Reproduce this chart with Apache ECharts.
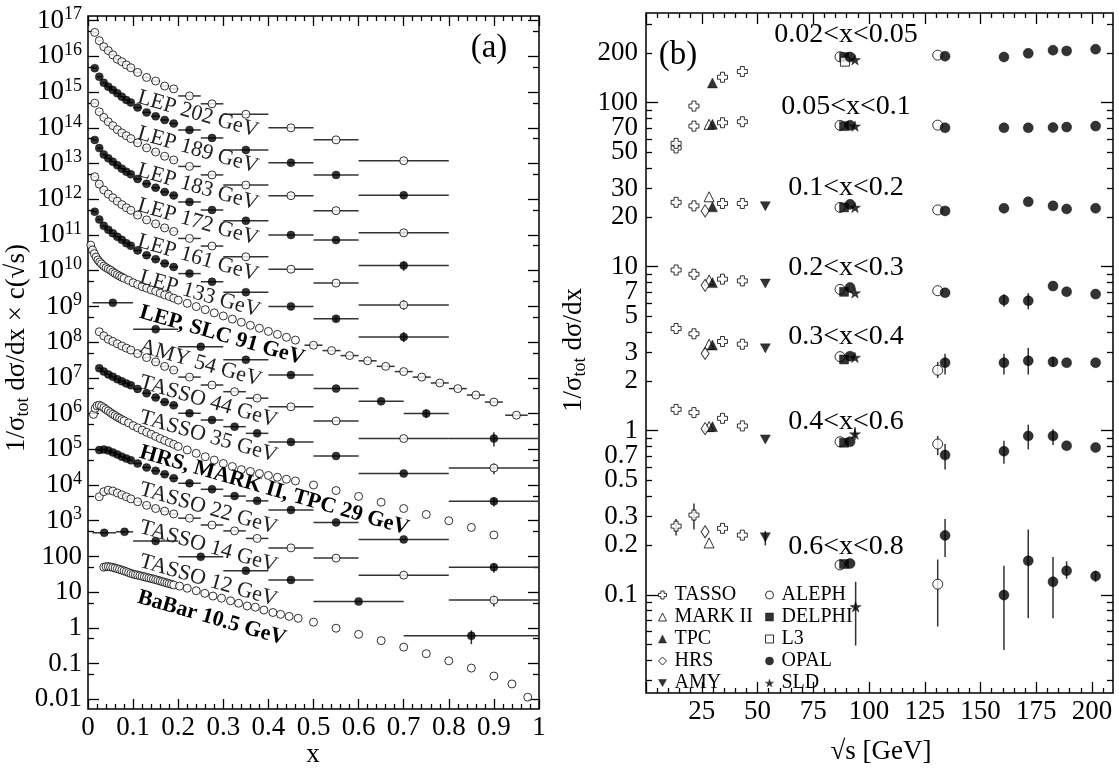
<!DOCTYPE html>
<html>
<head>
<meta charset="utf-8">
<script src="https://cdn.jsdelivr.net/npm/echarts@6/dist/echarts.min.js"></script>
<style>
html,body{margin:0;padding:0;background:#fff}
#main{width:1119px;height:768px}
</style>
</head>
<body>
<div id="main"></div>
<script>
var FONT = "'Liberation Serif','Times New Roman',serif";
var LG = Math.log10;

// ---- panel (a): x bins and 1/sigma dsigma/dx (before scaling by c) ----
var lep2X = [0.015,0.025,0.035,0.045,0.055,0.065,0.075,0.085,0.095,0.11,0.13,0.15,0.17,0.19,0.225,0.275,0.35,0.45,0.55,0.7];
var lep2W = [0.005,0.005,0.005,0.005,0.005,0.005,0.005,0.005,0.005,0.01,0.01,0.01,0.01,0.01,0.025,0.025,0.05,0.05,0.05,0.1];
var lep202 = [468,275,186,145,110,83,71,57.5,48,35.5,25.7,20.4,14.8,12.3,7.8,4.7,2.4,1.0,0.46,0.12];
var lep189 = [468,269,182,141,115,93,74,60,51,37,27,21,16.6,13.2,8.7,5.2,2.4,1.05,0.48,0.13];
var lep183 = [490,282,195,148,115,89,72,60,50,38,27.5,21,16,12.6,8.3,4.8,2.5,1.26,0.48,0.115];
var lep172 = [457,270,180,140,112,90,72,59,50,37,27,21,16,12.8,8.4,5.0,2.5,1.0,0.72,0.14];
var lep161 = [427,265,182,140,110,88,71,58,49,36,26.5,20.5,15.8,12.5,8.0,4.9,2.45,1.1,0.45,0.11];
var lep133 = [447,270,180,140,112,89,73,59,50,37,27,21,16,12.7,8.3,4.9,2.5,1.0,0.45,0.14];

var lep91X = [0.006,0.01,0.014,0.018,0.022,0.026,0.03,0.035,0.04,0.045,0.05,0.055,0.06,0.065,0.07,0.075,0.08,
  0.09,0.1,0.11,0.12,0.13,0.14,0.15,0.16,0.17,0.18,0.19,0.2,0.22,0.24,0.26,0.28,0.3,0.32,0.34,0.36,0.38,0.4,0.42,0.44,0.46,
  0.5,0.54,0.58,0.62,0.66,0.7,0.74,0.78,0.82,0.86,0.9,0.95];
var lep91W = [0,0,0,0,0,0,0,0,0,0,0,0,0,0,0,0,0,0,0,0,0,0,0,0,0,0,0,0,0,0,0,0,0,0,0,0,0,0,0,0,0,0,
  0.02,0.02,0.02,0.02,0.02,0.02,0.02,0.02,0.02,0.02,0.02,0.025];
var lep91 = [520,380,300,240,200,175,155,135,122,112,104,92,84,77,71,66,61,
  54,46,41,36,32.5,29,26.5,23.5,21,19,17,15,12.2,9.9,8.1,6.6,5.4,4.4,3.6,2.95,2.45,2.0,1.65,1.37,1.14,
  0.82,0.58,0.42,0.30,0.21,0.15,0.105,0.072,0.05,0.033,0.021,0.009];

var amyX = [0.055,0.15,0.25,0.35,0.45,0.55,0.65,0.75,0.9];
var amyW = [0.045,0.05,0.05,0.05,0.05,0.05,0.05,0.05,0.1];
var amy = [126,23,7.4,3.2,1.2,0.5,0.22,0.1,0.02];

var tasX = [0.025,0.035,0.045,0.055,0.065,0.075,0.085,0.095,0.11,0.13,0.15,0.17,0.19,0.225,0.275,0.325,0.375,0.45,0.55,0.7,0.9];
var tasW = [0.005,0.005,0.005,0.005,0.005,0.005,0.005,0.005,0.01,0.01,0.01,0.01,0.01,0.025,0.025,0.025,0.025,0.05,0.05,0.1,0.1];
var tasso44 = [195,150,120,105,90,78,68,60,48,37,28,21,16.5,10.5,6.3,4.1,2.7,1.55,0.62,0.2,0.03];
var tasso35 = [186,150,125,108,92,80,70,62,49,37,28,21,17,10.2,6.6,4.3,2.8,1.6,0.65,0.21,0.035];
var tasso22 = [95,98,92,82,72,62,55,49,40,31,25,20,15.5,11.2,7.6,4.9,3.6,2.0,0.9,0.3,0.05];
var tasso14 = [47,65,72,68,60,53,47,41,34,27,22,18.5,15.5,11.8,7.6,5.2,3.2,1.74,0.9,0.3,0.06];

var t12X = [0.036,0.081,0.15,0.25,0.35,0.45,0.6,0.85];
var t12W = [0.026,0.019,0.05,0.05,0.05,0.05,0.1,0.15];
var tasso12 = [46,49,27,9.8,4.0,2.2,0.55,0.06];

var hrsX = [0.012,0.016,0.02,0.025,0.03,0.035,0.04,0.045,0.05,0.055,0.06,0.065,0.07,0.075,0.08,0.09,0.1,0.11,0.12,0.13,
  0.14,0.15,0.16,0.17,0.18,0.19,0.2,0.22,0.24,0.26,0.28,0.3,0.32,0.34,0.36,0.38,0.4,0.42,0.44,0.46,
  0.5,0.55,0.6,0.65,0.7,0.75,0.8,0.85,0.9];
var hrs29 = [95,140,165,172,160,145,130,118,106,96,88,80,74,68,63,55,46,40,34.5,30,
  26.5,23,20,17.7,15.5,13.8,12,9.6,7.7,6.2,5.0,4.0,3.3,2.7,2.4,2.1,1.85,1.65,1.45,1.3,
  1.0,0.7,0.48,0.33,0.22,0.15,0.1,0.065,0.04];

var babarX = [0.035,0.04,0.045,0.05,0.055,0.06,0.065,0.07,0.075,0.08,0.085,0.09,0.095,0.1,0.105,0.11,0.115,0.12,0.125,0.13,
  0.135,0.14,0.145,0.15,0.155,0.16,0.165,0.17,0.175,0.18,0.185,0.19,0.203,0.22,0.24,0.259,0.277,0.296,0.316,0.334,
  0.353,0.371,0.39,0.41,0.427,0.446,0.466,0.5,0.55,0.6,0.65,0.7,0.75,0.8,0.85,0.9,0.94,0.975];
var babar = [50,52,52,51,49.5,47.5,45.5,43.5,41.5,39.5,37.5,35.5,33.5,32,31,30,29,28,27,26,
  25,24.2,23.3,22.5,21.5,20.6,19.7,18.9,18.1,17.3,16.6,15.9,14.8,12.9,11.0,9.3,7.8,6.8,5.75,4.9,
  4.1,3.8,3.16,2.7,2.4,2.1,1.86,1.45,0.98,0.66,0.44,0.29,0.19,0.12,0.075,0.045,0.027,0.0115];

// scale factors c(sqrt s) and selected vertical errors [index, low, high]
var samplesA = [
  {name:'LEP 202 GeV', x:lep2X, w:lep2W, v:lep202, c:1e14, open:true, err:[]},
  {name:'LEP 189 GeV', x:lep2X, w:lep2W, v:lep189, c:1e13, open:false, err:[]},
  {name:'LEP 183 GeV', x:lep2X, w:lep2W, v:lep183, c:1e12, open:true, err:[[19,0.1,0.13]]},
  {name:'LEP 172 GeV', x:lep2X, w:lep2W, v:lep172, c:1e11, open:false, err:[[19,0.1,0.18]]},
  {name:'LEP 161 GeV', x:lep2X, w:lep2W, v:lep161, c:1e10, open:true, err:[[19,0.08,0.15]]},
  {name:'LEP 133 GeV', x:lep2X, w:lep2W, v:lep133, c:1e9, open:false, err:[[18,0.38,0.52],[19,0.1,0.19]]},
  {name:'LEP, SLC 91 GeV', x:lep91X, w:lep91W, v:lep91, c:1e8, open:true, err:[]},
  {name:'AMY 54 GeV', x:amyX, w:amyW, v:amy, c:1e7, open:false, err:[[7,0.075,0.13],[8,0.012,0.03]]},
  {name:'TASSO 44 GeV', x:tasX, w:tasW, v:tasso44, c:1e6, open:true, err:[[20,0.02,0.04]]},
  {name:'TASSO 35 GeV', x:tasX, w:tasW, v:tasso35, c:1e5, open:false, err:[[20,0.025,0.045]]},
  {name:'HRS, MARK II, TPC 29 GeV', x:hrsX, w:null, v:hrs29, c:1e4, open:true, err:[]},
  {name:'TASSO 22 GeV', x:tasX, w:tasW, v:tasso22, c:1e3, open:false, err:[[20,0.035,0.065]]},
  {name:'TASSO 14 GeV', x:tasX, w:tasW, v:tasso14, c:1e2, open:true, err:[[20,0.04,0.08]]},
  {name:'TASSO 12 GeV', x:t12X, w:t12W, v:tasso12, c:10, open:false, err:[[7,0.035,0.085]]},
  {name:'BaBar 10.5 GeV', x:babarX, w:null, v:babar, c:1, open:true, err:[]}
];

// text labels along the curves: [text, x, y, bold]
var curveLabels = [
  ['LEP 202 GeV',138,97,false],['LEP 189 GeV',138,133,false],['LEP 183 GeV',138,170,false],
  ['LEP 172 GeV',138,205,false],['LEP 161 GeV',138,241,false],['LEP 133 GeV',140,277,false],
  ['LEP, SLC 91 GeV',140,312,true],['AMY 54 GeV',140,346,false],['TASSO 44 GeV',140,382,false],
  ['TASSO 35 GeV',140,417,false],['HRS, MARK II, TPC 29 GeV',140,452,true],['TASSO 22 GeV',140,489,false],
  ['TASSO 14 GeV',140,527,false],['TASSO 12 GeV',140,561,false],['BaBar 10.5 GeV',138,597,true]
];

// ---- panel (b): [sqrt s, value, err low, err high] ----
var tassoPts = [[13.5,53],[21.5,95.4],[34.3,143],[43.2,155],
  [13.5,56.5],[21.5,72],[34.3,75.5],[43.2,76.6],
  [13.5,24.7],[21.5,23.5],[34.3,24.3],[43.2,24.3],
  [13.5,9.55],[21.5,9.0],[34.3,8.4],[43.2,8.2],
  [13.5,4.2],[21.5,3.9],[34.3,3.5],[43.2,3.37],
  [13.5,1.35],[21.5,1.29],[34.3,1.19],[43.2,1.07],
  [13.5,0.262,0.23,0.29],[21.5,0.306,0.25,0.36],[34.3,0.254],[43.2,0.231]];
var markIIPts = [[28.3,73.8],[28.3,26.7],[28.3,8.3],[28.3,3.37],[28.3,1.06],[28.3,0.207]];
var tpcPts = [[29.8,132],[29.8,73.8],[29.8,23.2],[29.8,8.0],[29.8,3.33],[29.8,1.06]];
var hrsPts = [[26.5,21.9],[26.5,7.7],[26.5,2.96],[26.5,1.03],[26.5,0.242]];
var amyPts = [[53.5,23.4],[53.5,7.9],[53.5,3.18],[53.5,0.885],[53.5,0.224,0.2,0.245]];
var alephPts = [[87,190.6],[87,72.8],[87,23],[87,7.28],[87,2.83],[87,0.857],[87,0.152],
  [130.8,195],[130.8,73],[130.8,22.2],[130.8,7.14],[130.8,2.34,2.1,2.63],[130.8,0.83,0.71,0.93],[130.8,0.116,0.064,0.164]];
var delphiPts = [[88.8,190],[88.8,72],[88.8,23],[88.8,7.03],[88.8,2.72],[88.8,0.845],[88.8,0.154]];
var l3Pts = [[89.2,178]];
var opalPts = [[91.5,190],[91.5,72.8],[91.5,24],[91.5,7.48],[91.5,2.85],[91.5,0.857],[91.5,0.155],
  [134.1,192],[134.1,70.3],[134.1,21.9],[134.1,6.94],[134.1,2.6,2.2,2.95],[134.1,0.711,0.58,0.83],[134.1,0.23,0.17,0.29],
  [160.5,190],[160.5,70.3],[160.5,22.7],[160.5,6.26,5.7,6.8],[160.5,2.6,2.2,2.95],[160.5,0.75,0.63,0.87],[160.5,0.0995,0.046,0.15],
  [171.4,200],[171.4,70.3],[171.4,24.9],[171.4,6.2,5.5,6.9],[171.4,2.67,2.2,3.2],[171.4,0.93,0.77,1.09],[171.4,0.161,0.072,0.25],
  [182.5,209],[182.5,70.6],[182.5,23.5],[182.5,7.62],[182.5,2.63,2.45,2.8],[182.5,0.93,0.82,1.02],[182.5,0.12,0.072,0.17],
  [188.6,207],[188.6,71],[188.6,22.5],[188.6,7.04],[188.6,2.6],[188.6,0.81],[188.6,0.14,0.125,0.16],
  [201.6,212],[201.6,72],[201.6,22.7],[201.6,6.81],[201.6,2.6],[201.6,0.79],[201.6,0.13,0.12,0.14]];
var sldPts = [[93.7,183],[93.7,72],[93.7,23],[93.7,6.93],[93.7,2.8],[93.7,0.955,0.88,1.05],[94,0.0845,0.049,0.12]];

var binLabels = [['0.02<x<0.05',35],['0.05<x<0.1',107],['0.1<x<0.2',188],['0.2<x<0.3',268],
  ['0.3<x<0.4',337],['0.4<x<0.6',422],['0.6<x<0.8',547]];
var bTickLabels = [0.1,0.2,0.3,0.5,0.7,1,2,3,5,7,10,20,30,50,70,100,200];

var crossPath = 'path://M3,0 H7 V3 H10 V7 H7 V10 H3 V7 H0 V3 H3 Z';
var downTri = 'path://M0,0 L10,0 L5,9 Z';
var starPath = 'path://M50,0 L61,35 L98,35 L68,57 L79,91 L50,70 L21,91 L32,57 L2,35 L39,35 Z';

var expsB = [
  {name:'TASSO', pts:tassoPts, symbol:crossPath, size:10, open:true},
  {name:'MARK II', pts:markIIPts, symbol:'triangle', size:10, open:true},
  {name:'TPC', pts:tpcPts, symbol:'triangle', size:10, open:false},
  {name:'HRS', pts:hrsPts, symbol:'diamond', size:[8,12], open:true},
  {name:'AMY', pts:amyPts, symbol:downTri, size:10, open:false},
  {name:'ALEPH', pts:alephPts, symbol:'circle', size:10, open:true},
  {name:'DELPHI', pts:delphiPts, symbol:'rect', size:9, open:false},
  {name:'L3', pts:l3Pts, symbol:'rect', size:9, open:true},
  {name:'OPAL', pts:opalPts, symbol:'circle', size:10, open:false},
  {name:'SLD', pts:sldPts, symbol:starPath, size:11, open:false}
];

// ---- axes ranges (log10 space for y) ----
var aYmin = -2.27, aYmax = 17.13;
var bYmin = -1.599, bYmax = 2.547;
var bXmax = 209.4;

function range(a, b, step) {
  var out = [];
  for (var v = a; v <= b + 1e-9; v += step) out.push(Math.round(v * 1e6) / 1e6);
  return out;
}
function notMultiple(step) {
  return function (v) { return Math.abs(v / step - Math.round(v / step)) > 1e-6; };
}
var aXMajor = range(0, 1, 0.1);
var aXMinor = range(0.02, 0.98, 0.02).filter(notMultiple(0.1));
var aYMajor = range(-2, 17, 1);
var aYMinor = range(-3, 16, 1).map(function (n) { return n + LG(5); }).filter(function (v) { return v > aYmin; });
var bXMajor = range(0, 200, 25);
var bXMinor = range(5, 205, 5).filter(notMultiple(25));
var bYMajor = [-1, 0, 1, 2];
var bYMinor = [];
[-2, -1, 0, 1, 2].forEach(function (n) {
  for (var k = 2; k <= 9; k++) {
    var v = n + LG(k);
    if (v > bYmin && v < bYmax) bYMinor.push(v);
  }
});

function tickAxis(grid, pos, min, max, ticks, len) {
  return {
    type: 'value', gridIndex: grid, position: pos, min: min, max: max,
    splitLine: {show: false},
    axisLine: {show: false, onZero: false},
    axisTick: {show: true, inside: true, length: len, customValues: ticks, lineStyle: {color: '#000', width: 1.3}},
    axisLabel: {show: false}
  };
}

var xAxes = [
  tickAxis(0, 'bottom', 0, 1, aXMajor, 10),
  tickAxis(0, 'bottom', 0, 1, aXMinor, 5),
  tickAxis(0, 'top', 0, 1, aXMajor, 10),
  tickAxis(0, 'top', 0, 1, aXMinor, 5),
  tickAxis(1, 'bottom', 0, bXmax, bXMajor, 11),
  tickAxis(1, 'bottom', 0, bXmax, bXMinor, 5),
  tickAxis(1, 'top', 0, bXmax, bXMajor, 11),
  tickAxis(1, 'top', 0, bXmax, bXMinor, 5)
];
xAxes[0].axisLabel = {
  show: true, customValues: aXMajor, margin: 5, color: '#000', fontFamily: FONT, fontSize: 27,
  formatter: function (v) { return String(Math.round(v * 10) / 10); }
};
xAxes[4].axisLabel = {
  show: true, customValues: range(25, 200, 25), margin: 5, color: '#000', fontFamily: FONT, fontSize: 27,
  formatter: function (v) { return String(Math.round(v)); }
};

var yAxes = [
  tickAxis(0, 'left', aYmin, aYmax, aYMajor, 11),
  tickAxis(0, 'left', aYmin, aYmax, aYMinor, 6),
  tickAxis(0, 'right', aYmin, aYmax, aYMajor, 11),
  tickAxis(0, 'right', aYmin, aYmax, aYMinor, 6),
  tickAxis(1, 'left', bYmin, bYmax, bYMajor, 12),
  tickAxis(1, 'left', bYmin, bYmax, bYMinor, 6),
  tickAxis(1, 'right', bYmin, bYmax, bYMajor, 12),
  tickAxis(1, 'right', bYmin, bYmax, bYMinor, 6)
];
yAxes[0].axisLabel = {
  show: true, customValues: aYMajor, margin: 6,
  formatter: function (v) {
    var n = Math.round(v);
    if (n >= 3) return '{b|10}{s|' + n + '}';
    return '{b|' + ['0.01', '0.1', '1', '10', '100'][n + 2] + '}';
  },
  rich: {
    b: {fontFamily: FONT, fontSize: 27, lineHeight: 30, color: '#000'},
    s: {fontFamily: FONT, fontSize: 18, lineHeight: 14, verticalAlign: 'top', color: '#000'}
  }
};
yAxes[4].axisLabel = {
  show: true, customValues: bTickLabels.map(LG), margin: 8, color: '#000', fontFamily: FONT, fontSize: 27,
  formatter: function (v) { return String(Number(Math.pow(10, v).toPrecision(1))); }
};

// ---- series ----
function renderBars(params, api) {
  var y = api.value(1);
  var p = api.coord([api.value(0), y]);
  var a = api.coord([api.value(2), y]);
  var b = api.coord([api.value(3), y]);
  var lo = api.coord([api.value(0), api.value(4)]);
  var hi = api.coord([api.value(0), api.value(5)]);
  var st = {stroke: '#333', lineWidth: 1.5};
  var ch = [];
  if (b[0] - a[0] > 1) ch.push({type: 'line', shape: {x1: a[0], y1: p[1], x2: b[0], y2: p[1]}, style: st});
  if (lo[1] - hi[1] > 1) ch.push({type: 'line', shape: {x1: p[0], y1: lo[1], x2: p[0], y2: hi[1]}, style: st});
  return {type: 'group', children: ch};
}

function markStyle(open) {
  return open ? {color: '#fff', borderColor: '#000', borderWidth: 1} : {color: '#000', borderColor: '#000', borderWidth: 0.5};
}

var series = [];
samplesA.forEach(function (s) {
  var lc = LG(s.c);
  var pts = [], bars = [];
  s.x.forEach(function (x, i) {
    var ly = LG(s.v[i]) + lc;
    var w = s.w ? s.w[i] : 0;
    var lo = ly, hi = ly;
    s.err.forEach(function (e) { if (e[0] === i) { lo = LG(e[1]) + lc; hi = LG(e[2]) + lc; } });
    pts.push([x, ly]);
    bars.push([x, ly, x - w, x + w, lo, hi]);
  });
  series.push({
    name: s.name + ' bars', type: 'custom', xAxisIndex: 0, yAxisIndex: 0, clip: true, z: 1,
    renderItem: renderBars, data: bars, silent: true
  });
  series.push({
    name: s.name, type: 'scatter', xAxisIndex: 0, yAxisIndex: 0, z: 2, data: pts,
    symbol: 'circle', symbolSize: 8, itemStyle: markStyle(s.open)
  });
});

expsB.forEach(function (e) {
  var pts = [], bars = [];
  e.pts.forEach(function (p) {
    var ly = LG(p[1]);
    var lo = p.length > 2 ? LG(p[2]) : ly;
    var hi = p.length > 2 ? LG(p[3]) : ly;
    pts.push([p[0], ly]);
    bars.push([p[0], ly, p[0], p[0], lo, hi]);
  });
  series.push({
    name: e.name + ' err', type: 'custom', xAxisIndex: 4, yAxisIndex: 4, clip: true, z: 1,
    renderItem: renderBars, data: bars, silent: true
  });
  series.push({
    name: e.name, type: 'scatter', xAxisIndex: 4, yAxisIndex: 4, z: 2, data: pts,
    symbol: e.symbol, symbolSize: e.size, symbolKeepAspect: true, itemStyle: markStyle(e.open)
  });
});

function legendItems(list) {
  return list.map(function (e) {
    return {name: e.name, icon: e.symbol, itemStyle: markStyle(e.open)};
  });
}

// ---- texts ----
var graphics = [];
curveLabels.forEach(function (l) {
  graphics.push({
    type: 'text', x: l[1], y: l[2], rotation: -16 * Math.PI / 180, z: 10,
    style: {text: l[0], fontFamily: FONT, fontSize: 22, fontWeight: l[3] ? 'bold' : 'normal',
      fill: l[3] ? '#000' : '#222', align: 'left', verticalAlign: 'middle', textAlign: 'left', textVerticalAlign: 'middle'}
  });
});
binLabels.forEach(function (l) {
  graphics.push({
    type: 'text', x: 846, y: l[1], z: 10,
    style: {text: l[0], fontFamily: FONT, fontSize: 28, fill: '#000',
      align: 'center', verticalAlign: 'middle', textAlign: 'center', textVerticalAlign: 'middle'}
  });
});
function plainText(txt, x, y, size, rot) {
  return {
    type: 'text', x: x, y: y, rotation: rot || 0, z: 10,
    style: {text: txt, fontFamily: FONT, fontSize: size, fill: '#000',
      align: 'center', verticalAlign: 'middle', textAlign: 'center', textVerticalAlign: 'middle'}
  };
}
graphics.push(plainText('(a)', 489, 48, 33));
graphics.push(plainText('(b)', 678, 55, 33));
graphics.push(plainText('x', 313, 755, 27));
graphics.push(plainText('\u221As [GeV]', 881, 752, 27));
var titleRich = {
  m: {fontFamily: FONT, fontSize: 27, lineHeight: 30, color: '#000'},
  s: {fontFamily: FONT, fontSize: 18, lineHeight: 12, verticalAlign: 'bottom', color: '#000'}
};
graphics.push({
  type: 'text', x: 17, y: 348, rotation: Math.PI / 2, z: 10,
  style: {text: '{m|1/\u03c3}{s|tot}{m| d\u03c3/dx \u00d7 c(\u221as)}', rich: titleRich,
    align: 'center', verticalAlign: 'middle', textAlign: 'center', textVerticalAlign: 'middle'}
});
graphics.push({
  type: 'text', x: 574, y: 350, rotation: Math.PI / 2, z: 10,
  style: {text: '{m|1/\u03c3}{s|tot}{m| d\u03c3/dx}', rich: titleRich,
    align: 'center', verticalAlign: 'middle', textAlign: 'center', textVerticalAlign: 'middle'}
});

var legendText = {fontFamily: FONT, fontSize: 20, color: '#000', lineHeight: 20, padding: [0, 0, 0, 3]};
var option = {
  backgroundColor: '#fff',
  animation: false,
  grid: [
    {left: 88, top: 16, width: 451, height: 693, show: true, borderColor: '#000', borderWidth: 1.5, backgroundColor: 'transparent'},
    {left: 646, top: 13, width: 467, height: 680, show: true, borderColor: '#000', borderWidth: 1.5, backgroundColor: 'transparent'}
  ],
  xAxis: xAxes,
  yAxis: yAxes,
  legend: [
    {left: 653, top: 580, orient: 'vertical', itemGap: 2, itemWidth: 8, itemHeight: 8,
      selectedMode: false, textStyle: legendText, data: legendItems(expsB.slice(0, 5))},
    {left: 760, top: 580, orient: 'vertical', itemGap: 2, itemWidth: 8, itemHeight: 8,
      selectedMode: false, textStyle: legendText, data: legendItems(expsB.slice(5))}
  ],
  graphic: graphics,
  series: series
};

var myChart = echarts.init(document.getElementById('main'));
myChart.setOption(option);
</script>
</body>
</html>
